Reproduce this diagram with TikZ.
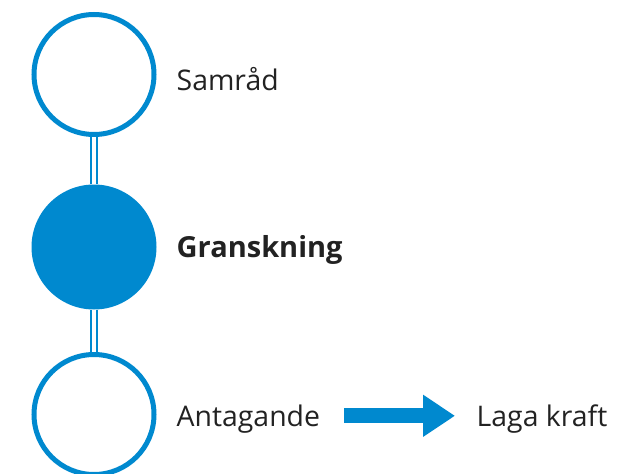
\documentclass[tikz,border=0pt]{standalone}
\usepackage{fontspec}
\setmainfont{Open Sans}
\usetikzlibrary{arrows.meta}
\definecolor{stepblue}{RGB}{0,137,207}
\definecolor{labelgray}{RGB}{34,34,34}
\tikzset{
  ring/.style={circle, draw=stepblue, line width=5pt, fill=white, minimum size=120pt, inner sep=0pt},
  dot/.style={circle, fill=stepblue, minimum size=125pt, inner sep=0pt},
  link/.style={draw=stepblue, line width=2.2pt, double=white, double distance=3.3pt},
  label/.style={anchor=base west, inner sep=0pt, text=labelgray, font=\fontsize{28.4}{34}\selectfont},
  flow/.style={draw=stepblue, line width=15pt, -{Triangle[length=32pt,width=40pt]}}
}
\begin{document}
\begin{tikzpicture}[x=1pt,y=-1pt]
  \useasboundingbox (0,0) rectangle (617,473);
  % stages of the process
  \node[ring] (s1) at (94,74.5) {};
  \node[dot]  (s2) at (94,247) {};
  \node[ring] (s3) at (94,414.5) {};
  % connecting double lines
  \draw[link] (s1.south) -- (s2.north);
  \draw[link] (s2.south) -- (s3.north);
  % labels
  \node[label] (t1) at (176.5,91) {Samråd};
  \node[label, font=\fontsize{29}{34}\selectfont\bfseries] (t2) at (176.5,257.5) {Granskning};
  \node[label] (t3) at (176.5,426.7) {Antagande};
  \node[label] (t4) at (476.5,426.7) {Laga kraft};
  % arrow to the final stage
  \coordinate (a1) at (344,415.8);
  \coordinate (a2) at (455,415.8);
  \draw[flow] (a1) -- (a2);
\end{tikzpicture}
\end{document}
